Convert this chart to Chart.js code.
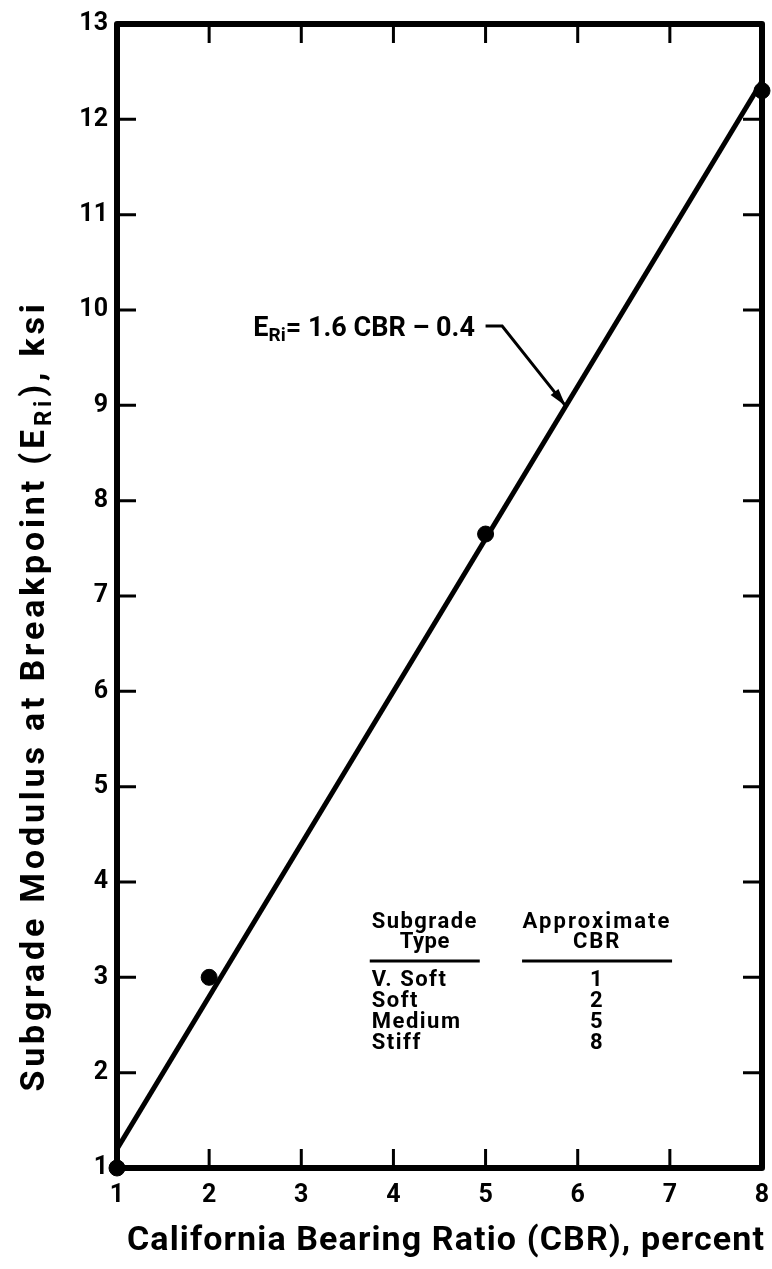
<!DOCTYPE html>
<html>
<head>
<meta charset="utf-8">
<title>Subgrade modulus vs CBR</title>
<script src="https://cdn.jsdelivr.net/npm/chart.js@4.4.1/dist/chart.umd.min.js"></script>
<style>
  body { margin: 0; background: #fff; }
  #wrap { width: 772px; height: 1269px; position: relative; }
</style>
</head>
<body>
<div id="wrap"><canvas id="cbrChart"></canvas></div>
<script>
// measured points
const cbrValues = [1, 2, 5, 8];
const modulusValues = [1.0, 3.0, 7.65, 12.3];

// regression line E_Ri = 1.6 CBR - 0.4, drawn over the CBR range
const fitSlope = 1.6;
const fitIntercept = -0.4;
const fitRange = [1, 8];

const xTicks = [1, 2, 3, 4, 5, 6, 7, 8];
const yTicks = [1, 2, 3, 4, 5, 6, 7, 8, 9, 10, 11, 12, 13];

// table in the lower right of the plot
const subgradeTypes = ["V. Soft", "Soft", "Medium", "Stiff"];
const approxCbr = ["1", "2", "5", "8"];

const FONT = "Roboto";

function bold(size) {
    return "bold " + size + "px " + FONT;
}

// letter spacing that stretches plain text to a given width
function spacingFor(ctx, text, size, width) {
    ctx.letterSpacing = "0px";
    ctx.font = bold(size);
    const w = ctx.measureText(text).width;
    return Math.max(0, (width - w) / text.length);
}

// draws text made of normal and subscript runs, starting at x
function richText(ctx, parts, x, y, size, sp) {
    let cx = x;
    ctx.letterSpacing = (sp || 0) + "px";
    parts.forEach(p => {
        const s = p.sub ? Math.round(size * 0.72) : size;
        ctx.font = bold(s);
        ctx.fillText(p.t, cx, p.sub ? y + size * 0.28 : y);
        cx += ctx.measureText(p.t).width;
    });
    return cx - x;
}

function richWidth(ctx, parts, size, sp) {
    let w = 0;
    ctx.letterSpacing = (sp || 0) + "px";
    parts.forEach(p => {
        ctx.font = bold(p.sub ? Math.round(size * 0.72) : size);
        w += ctx.measureText(p.t).width;
    });
    return w;
}

function spacedText(ctx, text, x, y, size, width) {
    const sp = spacingFor(ctx, text, size, width);
    ctx.letterSpacing = sp + "px";
    ctx.font = bold(size);
    ctx.fillText(text, x, y);
    ctx.letterSpacing = "0px";
}

const framePlugin = {
    id: "frame",
    beforeDatasetsDraw(chart) {
        const ctx = chart.ctx;
        const a = chart.chartArea;
        const xs = chart.scales.x;
        const ys = chart.scales.y;
        const tick = 19;
        ctx.save();
        ctx.strokeStyle = "#000";
        ctx.lineWidth = 6;
        ctx.lineJoin = "round";
        ctx.strokeRect(a.left, a.top, a.right - a.left, a.bottom - a.top);

        ctx.lineWidth = 3;
        ctx.beginPath();
        xTicks.slice(1, -1).forEach(v => {
            const px = xs.getPixelForValue(v);
            ctx.moveTo(px, a.bottom);
            ctx.lineTo(px, a.bottom - tick);
            ctx.moveTo(px, a.top);
            ctx.lineTo(px, a.top + tick);
        });
        yTicks.slice(1, -1).forEach(v => {
            const py = ys.getPixelForValue(v);
            ctx.moveTo(a.left, py);
            ctx.lineTo(a.left + tick, py);
            ctx.moveTo(a.right, py);
            ctx.lineTo(a.right - tick, py);
        });
        ctx.stroke();
        ctx.restore();
    },
    afterDatasetsDraw(chart) {
        const ctx = chart.ctx;
        const a = chart.chartArea;
        const xs = chart.scales.x;
        const ys = chart.scales.y;
        ctx.save();
        ctx.fillStyle = "#000";
        ctx.strokeStyle = "#000";
        ctx.textBaseline = "middle";

        // x axis title
        ctx.textAlign = "left";
        spacedText(ctx, "California Bearing Ratio (CBR), percent", a.left + 10, 1241, 34, 638);

        // y axis title, rotated
        const yTitle = [
            { t: "Subgrade Modulus at Breakpoint (E" },
            { t: "Ri", sub: true },
            { t: "), ksi" }
        ];
        const ySize = 34;
        const ySp = spacingFor(ctx, "Subgrade Modulus at Breakpoint (ERi), ksi", ySize, 800);
        ctx.save();
        ctx.translate(35, 696);
        ctx.rotate(-Math.PI / 2);
        richText(ctx, yTitle, -richWidth(ctx, yTitle, ySize, ySp) / 2, 0, ySize, ySp);
        ctx.restore();

        // equation label with leader arrow
        const eqX = xs.getPixelForValue(2.48);
        const eqY = ys.getPixelForValue(9.8);
        const eq = [
            { t: "E" },
            { t: "Ri", sub: true },
            { t: "= 1.6 CBR \u2013 0.4" }
        ];
        richText(ctx, eq, eqX, eqY, 27, 0);
        ctx.letterSpacing = "0px";

        const tipCbr = 5.87;
        const tipX = xs.getPixelForValue(tipCbr);
        const tipY = ys.getPixelForValue(fitSlope * tipCbr + fitIntercept);
        const startX = xs.getPixelForValue(5.0);
        const elbowX = xs.getPixelForValue(5.18);
        const legY = eqY - 3;
        ctx.lineWidth = 3;
        ctx.beginPath();
        ctx.moveTo(startX, legY);
        ctx.lineTo(elbowX, legY);
        ctx.lineTo(tipX, tipY);
        ctx.stroke();
        const ang = Math.atan2(tipY - legY, tipX - elbowX);
        ctx.beginPath();
        ctx.moveTo(tipX, tipY);
        ctx.lineTo(tipX - 18 * Math.cos(ang) + 5 * Math.sin(ang), tipY - 18 * Math.sin(ang) - 5 * Math.cos(ang));
        ctx.lineTo(tipX - 18 * Math.cos(ang) - 5 * Math.sin(ang), tipY - 18 * Math.sin(ang) + 5 * Math.cos(ang));
        ctx.closePath();
        ctx.fill();

        // subgrade table
        const col1 = xs.getPixelForValue(4.34);
        const col2 = xs.getPixelForValue(6.21);
        const top = ys.getPixelForValue(3.57);
        const rowH = 20.7;
        const tSize = 22;
        ctx.textAlign = "center";
        spacedText(ctx, "Subgrade", col1, top, tSize, 106);
        spacedText(ctx, "Type", col1, top + 20, tSize, 50);
        spacedText(ctx, "Approximate", col2, top, tSize, 149);
        spacedText(ctx, "CBR", col2, top + 20, tSize, 48);
        ctx.lineWidth = 3;
        ctx.beginPath();
        ctx.moveTo(col1 - 55, top + 38);
        ctx.lineTo(col1 + 55, top + 38);
        ctx.moveTo(col2 - 75, top + 38);
        ctx.lineTo(col2 + 75, top + 38);
        ctx.stroke();
        ctx.letterSpacing = "1.5px";
        ctx.font = bold(tSize);
        subgradeTypes.forEach((name, i) => {
            const ry = top + 58 + i * rowH;
            ctx.textAlign = "left";
            ctx.fillText(name, col1 - 53, ry);
            ctx.textAlign = "center";
            ctx.fillText(approxCbr[i], col2, ry);
        });
        ctx.letterSpacing = "0px";
        ctx.restore();
    }
};

const ctx = document.getElementById("cbrChart");

new Chart(ctx, {
    type: "scatter",
    data: {
        datasets: [
            {
                label: "Fit",
                data: fitRange.map(c => ({ x: c, y: fitSlope * c + fitIntercept })),
                showLine: true,
                borderColor: "#000",
                borderWidth: 5,
                pointRadius: 0,
                clip: false
            },
            {
                label: "Subgrade",
                data: cbrValues.map((c, i) => ({ x: c, y: modulusValues[i] })),
                pointRadius: 8,
                pointBackgroundColor: "#000",
                pointBorderColor: "#000",
                clip: false
            }
        ]
    },
    options: {
        responsive: true,
        maintainAspectRatio: false,
        animation: false,
        layout: {
            autoPadding: false,
            padding: { top: 22, right: 10, left: 0, bottom: 0 }
        },
        plugins: {
            legend: { display: false },
            tooltip: { enabled: false }
        },
        scales: {
            x: {
                type: "linear",
                min: 1,
                max: 8,
                afterBuildTicks: s => { s.ticks = xTicks.map(v => ({ value: v })); },
                afterFit: s => {
                    s.height = 101;
                    s.paddingLeft = 0;
                    s.paddingRight = 0;
                },
                grid: { display: false, drawTicks: false },
                border: { display: false },
                ticks: {
                    color: "#000",
                    padding: 13,
                    font: { family: FONT, weight: "bold", size: 25 }
                }
            },
            y: {
                type: "linear",
                min: 1,
                max: 13,
                afterBuildTicks: s => { s.ticks = yTicks.map(v => ({ value: v })); },
                afterFit: s => { s.width = 117; },
                grid: { display: false, drawTicks: false },
                border: { display: false },
                ticks: {
                    color: "#000",
                    padding: 9,
                    font: { family: FONT, weight: "bold", size: 25 }
                }
            }
        }
    },
    plugins: [framePlugin]
});
</script>
</body>
</html>
